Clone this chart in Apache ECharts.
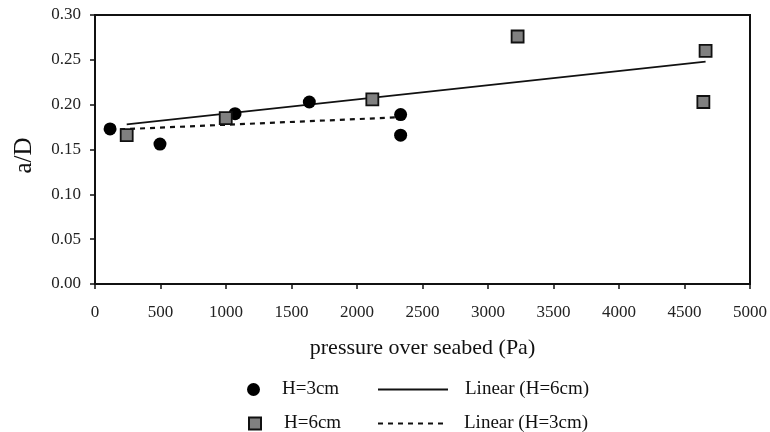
<!DOCTYPE html>
<html>
<head>
<meta charset="utf-8">
<title>a/D vs pressure over seabed</title>
<script src="https://cdn.jsdelivr.net/npm/echarts@6/dist/echarts.min.js"></script>
<style>
  html, body { margin: 0; padding: 0; background: #fff; }
  #chart { width: 770px; height: 432px; }
</style>
</head>
<body>
<div id="chart"></div>
<script>
// H=3cm (circles)
var pressure3 = [115, 496, 1069, 1636, 2333, 2333]
var ratio3 = [0.173, 0.156, 0.190, 0.203, 0.189, 0.166]
// H=6cm (squares)
var pressure6 = [242, 998, 2117, 3226, 4661, 4644]
var ratio6 = [0.166, 0.185, 0.206, 0.276, 0.260, 0.203]
// trend lines, end points
var trend6X = [242, 4661]
var trend6Y = [0.178, 0.248]
var trend3X = [115, 2333]
var trend3Y = [0.172, 0.186]

var serif = 'Liberation Serif'

function pairs (xs, ys) {
  return xs.map(function (x, i) { return [x, ys[i]] })
}

function legendAt (name, left, top, w, h, pad, hideSymbol) {
  var lg = {
    data: [name],
    left: left,
    top: top,
    orient: 'horizontal',
    itemWidth: w,
    itemHeight: h,
    selectedMode: false,
    textStyle: {
      fontFamily: serif,
      fontSize: 19,
      color: '#111',
      padding: [0, 0, 0, pad]
    }
  }
  if (hideSymbol) {
    // only the line, no dot in the middle
    lg.itemStyle = { color: 'rgba(0,0,0,0)', borderWidth: 0 }
  }
  return lg
}

var chart = echarts.init(document.getElementById('chart'))
var option = {
  animation: false,
  backgroundColor: '#fff',
  grid: {
    left: 95,
    right: 20,
    top: 15,
    bottom: 148,
    show: true,
    borderColor: '#111',
    borderWidth: 2
  },
  legend: [
    legendAt('H=3cm', 242, 375, 13, 13, 17),
    legendAt('Linear (H=6cm)', 372, 375, 70, 14, 12, true),
    legendAt('H=6cm', 243, 409, 12, 12, 18),
    legendAt('Linear (H=3cm)', 372, 409, 70, 14, 11, true)
  ],
  xAxis: {
    type: 'value',
    min: 0,
    max: 5000,
    interval: 500,
    name: 'pressure over seabed (Pa)',
    nameLocation: 'middle',
    nameGap: 53,
    nameTextStyle: { fontFamily: serif, fontSize: 22, color: '#111' },
    axisLine: { lineStyle: { color: '#111', width: 2 } },
    axisTick: { show: true, length: 5, lineStyle: { color: '#111', width: 1.5 } },
    axisLabel: {
      fontFamily: serif,
      fontSize: 17,
      color: '#222',
      margin: 20,
      formatter: function (v) { return String(v) }
    },
    splitLine: { show: false }
  },
  yAxis: {
    type: 'value',
    min: 0,
    max: 0.3,
    interval: 0.05,
    name: 'a/D',
    nameLocation: 'middle',
    nameGap: 58,
    nameTextStyle: { fontFamily: serif, fontSize: 25, color: '#111', padding: [0, 12, 0, 0] },
    axisLine: { show: true, lineStyle: { color: '#111', width: 2 } },
    axisTick: { show: true, length: 5, lineStyle: { color: '#111', width: 1.5 } },
    axisLabel: {
      fontFamily: serif,
      fontSize: 17,
      color: '#222',
      margin: 14,
      formatter: function (v) { return v.toFixed(2) }
    },
    splitLine: { show: false }
  },
  series: [
    {
      name: 'Linear (H=6cm)',
      type: 'line',
      data: pairs(trend6X, trend6Y),
      symbol: 'none',
      lineStyle: { color: '#111', width: 1.6, type: 'solid' },
      itemStyle: { color: '#111' },
      z: 2
    },
    {
      name: 'Linear (H=3cm)',
      type: 'line',
      data: pairs(trend3X, trend3Y),
      symbol: 'none',
      lineStyle: { color: '#111', width: 2.2, type: [5, 5] },
      itemStyle: { color: '#111' },
      z: 2
    },
    {
      name: 'H=3cm',
      type: 'scatter',
      data: pairs(pressure3, ratio3),
      symbol: 'circle',
      symbolSize: 13,
      itemStyle: { color: '#000', opacity: 1 },
      z: 3
    },
    {
      name: 'H=6cm',
      type: 'scatter',
      data: pairs(pressure6, ratio6),
      symbol: 'rect',
      symbolSize: 12,
      itemStyle: { color: '#808080', borderColor: '#111', borderWidth: 1.8, opacity: 1 },
      z: 3
    }
  ]
}
chart.setOption(option)
</script>
</body>
</html>
